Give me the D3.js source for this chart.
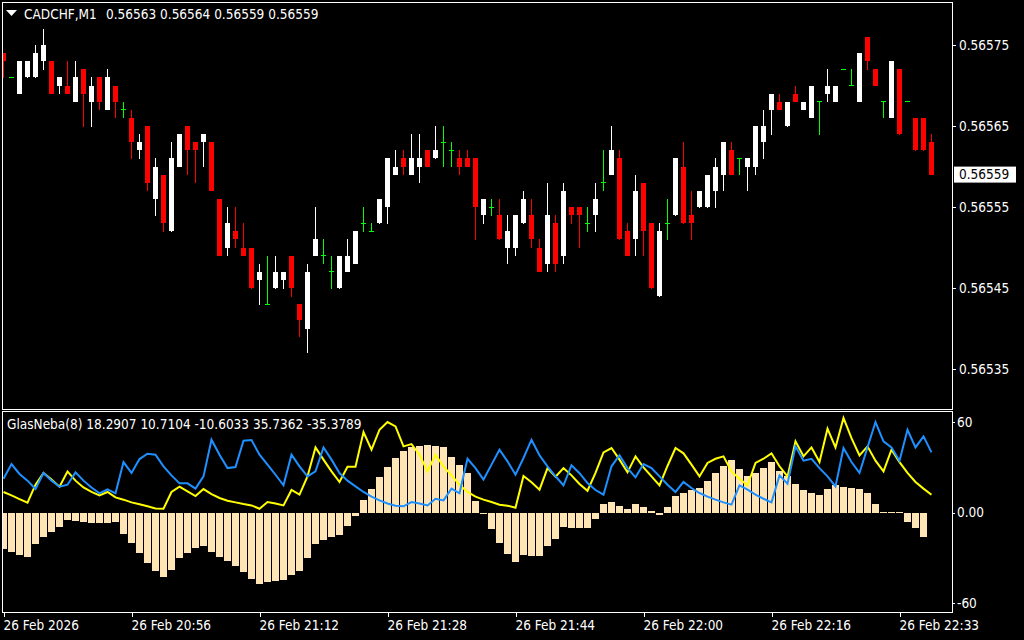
<!DOCTYPE html>
<html><head><meta charset="utf-8">
<script src="https://cdn.jsdelivr.net/npm/d3@7"></script>
<style>
html,body{margin:0;padding:0;background:#000;}
svg{display:block;}
text{font-family:"DejaVu Sans Condensed","DejaVu Sans",sans-serif;font-stretch:condensed;font-size:13.5px;fill:#fff;}
</style></head><body>
<svg id="c" width="1024" height="640"></svg>
<script>
// ---------------- data ----------------
const symbol = "CADCHF,M1";
const lastQuote = "0.56563 0.56564 0.56559 0.56559";
const indicatorLabel = "GlasNeba(8) 18.2907 10.7104 -10.6033 35.7362 -35.3789";

const opens = [0.56574,0.56571,0.56569,0.56571,0.56571,0.56573,0.56573,0.56570,0.56570,0.56568,
0.56572,0.56568,0.56571,0.56567,0.56570,0.56567,0.56566,0.56562,0.56565,0.56556,
0.56559,0.56552,0.56560,0.56565,0.56563,0.56563,0.56563,0.56556,0.56550,0.56552,
0.56550,0.56550,0.56546,0.56543,0.56545,0.56546,0.56549,0.56543,0.56540,0.56549,
0.56549,0.56547,0.56545,0.56547,0.56548,0.56553,0.56552,0.56553,0.56555,0.56559,
0.56561,0.56559,0.56560,0.56562,0.56561,0.56563,0.56562,0.56561,0.56561,0.56561,
0.56554,0.56555,0.56554,0.56550,0.56550,0.56553,0.56554,0.56550,0.56548,0.56553,
0.56549,0.56555,0.56555,0.56553,0.56554,0.56558,0.56559,0.56561,0.56552,0.56551,
0.56558,0.56553,0.56544,0.56553,0.56554,0.56560,0.56554,0.56555,0.56555,0.56557,
0.56559,0.56562,0.56561,0.56560,0.56560,0.56563,0.56567,0.56568,0.56565,0.56569,
0.56567,0.56566,0.56568,0.56569,0.56568,0.56572,0.56570,0.56568,0.56576,0.56572,
0.56568,0.56566,0.56572,0.56568,0.56566,0.56566,0.56563];
const highs = [0.56574,0.56571,0.56573,0.56573,0.56575,0.56577,0.56573,0.56571,0.56573,0.56573,
0.56572,0.56571,0.56571,0.56572,0.56570,0.56568,0.56567,0.56564,0.56565,0.56561,
0.56559,0.56563,0.56564,0.56565,0.56563,0.56564,0.56563,0.56556,0.56555,0.56555,
0.56553,0.56550,0.56548,0.56549,0.56549,0.56547,0.56549,0.56543,0.56548,0.56555,
0.56551,0.56549,0.56549,0.56551,0.56552,0.56555,0.56553,0.56556,0.56561,0.56562,
0.56562,0.56564,0.56564,0.56562,0.56565,0.56565,0.56563,0.56562,0.56562,0.56561,
0.56556,0.56556,0.56556,0.56554,0.56554,0.56557,0.56556,0.56551,0.56558,0.56554,
0.56558,0.56555,0.56555,0.56555,0.56558,0.56562,0.56565,0.56562,0.56553,0.56559,
0.56558,0.56553,0.56553,0.56556,0.56561,0.56563,0.56557,0.56557,0.56559,0.56561,
0.56563,0.56563,0.56561,0.56561,0.56565,0.56567,0.56569,0.56569,0.56568,0.56570,
0.56568,0.56570,0.56568,0.56572,0.56570,0.56572,0.56572,0.56574,0.56576,0.56572,
0.56568,0.56573,0.56572,0.56568,0.56566,0.56566,0.56564];
const lows = [0.56571,0.56571,0.56569,0.56571,0.56571,0.56572,0.56569,0.56569,0.56569,0.56568,
0.56565,0.56565,0.56567,0.56567,0.56566,0.56566,0.56561,0.56561,0.56557,0.56554,
0.56552,0.56552,0.56560,0.56559,0.56558,0.56560,0.56557,0.56549,0.56549,0.56550,
0.56549,0.56545,0.56543,0.56543,0.56545,0.56545,0.56544,0.56539,0.56537,0.56549,
0.56548,0.56545,0.56545,0.56547,0.56548,0.56552,0.56552,0.56553,0.56553,0.56559,
0.56559,0.56559,0.56558,0.56560,0.56561,0.56560,0.56560,0.56559,0.56560,0.56551,
0.56553,0.56554,0.56551,0.56548,0.56549,0.56553,0.56550,0.56547,0.56547,0.56547,
0.56548,0.56553,0.56550,0.56552,0.56552,0.56557,0.56559,0.56551,0.56549,0.56549,
0.56549,0.56545,0.56544,0.56551,0.56554,0.56553,0.56551,0.56555,0.56555,0.56555,
0.56557,0.56559,0.56559,0.56557,0.56559,0.56561,0.56564,0.56567,0.56565,0.56568,
0.56567,0.56566,0.56564,0.56568,0.56568,0.56572,0.56570,0.56568,0.56572,0.56570,
0.56566,0.56566,0.56564,0.56568,0.56562,0.56562,0.56559];
const closes = [0.56573,0.56571,0.56573,0.56573,0.56574,0.56575,0.56569,0.56571,0.56569,0.56571,
0.56569,0.56570,0.56568,0.56571,0.56568,0.56567,0.56563,0.56563,0.56558,0.56560,
0.56553,0.56561,0.56564,0.56562,0.56562,0.56564,0.56557,0.56549,0.56553,0.56551,
0.56549,0.56545,0.56547,0.56543,0.56547,0.56547,0.56545,0.56541,0.56547,0.56551,
0.56549,0.56547,0.56549,0.56549,0.56552,0.56553,0.56552,0.56556,0.56561,0.56560,
0.56560,0.56561,0.56561,0.56560,0.56562,0.56563,0.56562,0.56560,0.56560,0.56555,
0.56556,0.56555,0.56551,0.56552,0.56554,0.56556,0.56551,0.56547,0.56554,0.56548,
0.56557,0.56554,0.56554,0.56553,0.56556,0.56558,0.56562,0.56551,0.56549,0.56557,
0.56552,0.56545,0.56552,0.56553,0.56561,0.56553,0.56553,0.56557,0.56559,0.56560,
0.56563,0.56559,0.56561,0.56561,0.56565,0.56565,0.56569,0.56567,0.56568,0.56568,
0.56568,0.56570,0.56568,0.56570,0.56570,0.56572,0.56570,0.56574,0.56573,0.56570,
0.56568,0.56573,0.56564,0.56568,0.56562,0.56562,0.56559];

const histValues = [-24.0,-26.0,-27.9,-29.3,-20.7,-16.0,-12.7,-9.4,-4.8,-5.4,
-6.1,-6.8,-6.8,-6.8,-6.1,-14.0,-20.0,-26.6,-33.2,-38.5,
-42.5,-37.8,-29.9,-26.6,-23.3,-22.0,-26.0,-29.3,-31.9,-35.2,
-39.2,-43.8,-47.2,-45.8,-45.2,-44.5,-41.2,-38.5,-29.9,-20.7,
-18.0,-16.0,-14.7,-8.7,-2.1,8.5,15.8,23.7,30.3,36.3,
40.9,43.6,44.2,44.9,44.2,43.6,37.0,31.7,26.0,7.8,
-0.8,-10.7,-20.0,-27.3,-32.6,-28.0,-28.6,-28.6,-22.0,-17.3,
-9.4,-10.1,-10.1,-10.1,-4.1,5.8,7.2,4.5,2.5,5.8,
3.8,1.2,-1.5,3.8,11.1,13.1,15.1,16.4,21.1,26.4,
31.0,35.0,29.0,24.4,26.4,29.7,33.6,27.7,24.4,19.1,
15.1,13.1,11.8,15.8,18.4,17.1,16.4,15.8,13.1,5.8,
0.3,0.3,0.3,-6.1,-10.1,-16.0,0];
const yellowValues = [13.6,11.3,8.9,6.5,18.4,26.2,21.8,17.1,27.2,21.1,
16.6,13.6,11.3,13.6,10.0,8.5,6.7,5.4,4.1,2.7,
2.5,13.6,17.1,14.0,10.9,15.5,12.2,9.6,7.8,6.7,
5.6,4.7,2.5,6.9,6.0,4.7,14.9,11.8,23.9,43.1,
35.0,27.2,20.2,30.3,30.3,53.3,41.6,54.8,59.9,57.0,
43.8,45.3,38.3,27.2,38.3,30.6,24.6,18.4,13.6,10.5,
8.5,6.9,5.2,4.5,3.2,24.2,20.0,15.1,29.4,23.7,
29.4,24.6,18.9,14.4,26.2,39.8,42.7,35.0,26.6,37.2,
29.9,23.9,18.0,30.8,42.7,39.2,31.7,23.9,32.8,35.6,
37.2,27.2,22.4,18.0,32.8,35.6,39.2,30.6,23.9,47.1,
37.2,43.1,33.4,55.5,43.1,62.6,49.3,37.8,43.8,34.3,
27.2,41.6,33.4,26.2,20.2,15.8,11.8];
const blueValues = [22.4,32.1,25.5,21.1,15.6,26.2,21.1,17.1,18.4,26.6,
21.1,16.6,12.7,15.3,12.7,33.4,26.2,35.4,38.9,38.3,
30.6,24.6,19.3,19.3,15.8,23.9,48.2,38.3,29.4,30.1,
47.5,48.0,38.3,31.7,25.0,18.0,38.3,30.6,23.9,27.2,
43.1,35.0,26.1,21.1,17.3,13.6,10.5,8.0,6.0,4.5,
4.1,6.9,6.0,4.7,9.1,8.0,15.8,12.7,35.6,29.4,
21.8,31.7,41.6,33.9,25.0,36.1,48.2,37.9,30.6,24.0,
18.0,31.3,26.0,19.5,14.9,11.8,30.6,37.9,29.4,23.3,
32.1,29.4,23.9,18.4,13.6,20.2,16.2,12.9,10.5,8.5,
6.7,5.2,18.0,15.1,11.8,9.1,6.7,24.6,19.1,43.8,
34.3,35.6,29.4,23.9,17.3,42.7,33.4,26.2,43.1,59.9,
47.1,43.1,34.3,54.8,43.1,50.4,39.8];

const priceTicks = [0.56575,0.56565,0.56555,0.56545,0.56535];
const currentPrice = 0.56559;
const timeTickIndex = [0,16,32,48,64,80,96,112];
const timeTickLabels = ["26 Feb 2026","26 Feb 20:56","26 Feb 21:12","26 Feb 21:28","26 Feb 21:44","26 Feb 22:00","26 Feb 22:16","26 Feb 22:33"];
const indTicks = [60,0,-60];
const indTickLabels = ["60","0.00","-60"];

// ---------------- drawing ----------------
const svg = d3.select("#c");
svg.append("rect").attr("width",1024).attr("height",640).attr("fill","#000");

const n = opens.length;
const x = d3.scaleLinear().domain([0, n-1]).range([3.5, 3.5 + 8*(n-1)]);
const yP = d3.scaleLinear().domain([0.56535, 0.56575]).range([369, 45]);
const yI = d3.scaleLinear().domain([-60, 60]).range([603.1, 421.9]);

const defs = svg.append("defs");
defs.append("clipPath").attr("id","clipMain").append("rect").attr("x",3).attr("y",3).attr("width",949).attr("height",405.5);
defs.append("clipPath").attr("id","clipInd").append("rect").attr("x",3).attr("y",412).attr("width",949).attr("height",200);

// candles
const candles = d3.range(n).map(i => ({i, o:opens[i], h:highs[i], l:lows[i], c:closes[i]}));
const pts = v => Math.round(v*1e5);
const col = d => pts(d.c) > pts(d.o) ? "#ffffff" : (pts(d.c) < pts(d.o) ? "#ff0000" : "#00ff00");
const gM = svg.append("g").attr("clip-path","url(#clipMain)").attr("shape-rendering","crispEdges");
gM.selectAll("line.wick").data(candles).join("line").attr("class","wick")
  .attr("x1",d=>x(d.i)).attr("x2",d=>x(d.i))
  .attr("y1",d=>yP(d.h)).attr("y2",d=>yP(d.l)+0.5)
  .attr("stroke",col).attr("stroke-width",1);
gM.selectAll("rect.body").data(candles.filter(d=>pts(d.o)!==pts(d.c))).join("rect").attr("class","body")
  .attr("x",d=>x(d.i)-2.5).attr("width",5)
  .attr("y",d=>yP(Math.max(d.o,d.c))).attr("height",d=>Math.abs(yP(d.o)-yP(d.c)))
  .attr("fill",col);
gM.selectAll("line.doji").data(candles.filter(d=>pts(d.o)===pts(d.c))).join("line").attr("class","doji")
  .attr("x1",d=>x(d.i)-2.5).attr("x2",d=>x(d.i)+2.5)
  .attr("y1",d=>yP(d.o)).attr("y2",d=>yP(d.o))
  .attr("stroke","#00ff00").attr("stroke-width",1);

// indicator
const gI = svg.append("g").attr("clip-path","url(#clipInd)");
gI.append("g").attr("shape-rendering","crispEdges").selectAll("rect").data(histValues).join("rect")
  .attr("x",(d,i)=>x(i)-3.5).attr("width",7)
  .attr("y",d=> d>=0 ? yI(d) : yI(0))
  .attr("height",d=>Math.max(1, Math.abs(yI(d)-yI(0))))
  .attr("fill",d=> d===0 ? "none" : "#ffe4b5");
const line = d3.line().x((d,i)=>x(i)).y(d=>yI(d));
gI.append("path").datum(yellowValues).attr("d",line).attr("fill","none").attr("stroke","#ffff00").attr("stroke-width",2).attr("stroke-linejoin","miter");
gI.append("path").datum(blueValues).attr("d",line).attr("fill","none").attr("stroke","#1e90ff").attr("stroke-width",2).attr("stroke-linejoin","miter");

// panel borders
const gB = svg.append("g").attr("shape-rendering","crispEdges").attr("fill","none").attr("stroke","#fff");
gB.append("rect").attr("x",2.5).attr("y",2.5).attr("width",950).attr("height",406.5);
gB.append("rect").attr("x",2.5).attr("y",411.5).attr("width",950).attr("height",201);

// price axis
const axP = svg.append("g").attr("transform","translate(952.5,0)")
  .call(d3.axisRight(yP).tickValues(priceTicks).tickFormat(d3.format(".5f")).tickSize(3).tickPadding(3.5));
axP.select(".domain").remove();
axP.selectAll("line").attr("stroke","#fff").attr("shape-rendering","crispEdges");
axP.selectAll("text").attr("fill","#fff").attr("font-family",null).attr("font-size",null);

// current price tag
const gCur = svg.append("g");
gCur.append("rect").attr("x",954).attr("y",yP(currentPrice)-8).attr("width",62).attr("height",16).attr("fill","#fff");
gCur.append("text").attr("x",959).attr("y",yP(currentPrice)).attr("dy","0.35em").style("fill","#000").text(d3.format(".5f")(currentPrice));

// indicator axis
const axI = svg.append("g").attr("transform","translate(952.5,0)")
  .call(d3.axisRight(yI).tickValues(indTicks).tickFormat((d,i)=>indTickLabels[i]).tickSize(2).tickPadding(2.5));
axI.select(".domain").remove();
axI.selectAll("line").attr("stroke","#fff").attr("shape-rendering","crispEdges");
axI.selectAll("text").attr("fill","#fff").attr("font-family",null).attr("font-size",null);

// time axis
const axT = svg.append("g").attr("transform","translate(0,612.5)")
  .call(d3.axisBottom(x).tickValues(timeTickIndex).tickFormat((d,i)=>timeTickLabels[i]).tickSize(4).tickPadding(4));
axT.select(".domain").remove();
axT.selectAll("line").attr("stroke","#fff").attr("shape-rendering","crispEdges");
axT.selectAll("text").attr("fill","#fff").attr("text-anchor","start").attr("x",-0.5).attr("font-family",null).attr("font-size",null);

// titles
svg.append("path").attr("d","M6,10 L17,10 L11.5,16 Z").attr("fill","#fff");
svg.append("text").attr("x",24).attr("y",19).text(symbol);
svg.append("text").attr("x",106).attr("y",19).text(lastQuote);
svg.append("text").attr("x",7).attr("y",429).text(indicatorLabel);
</script>
</body></html>
